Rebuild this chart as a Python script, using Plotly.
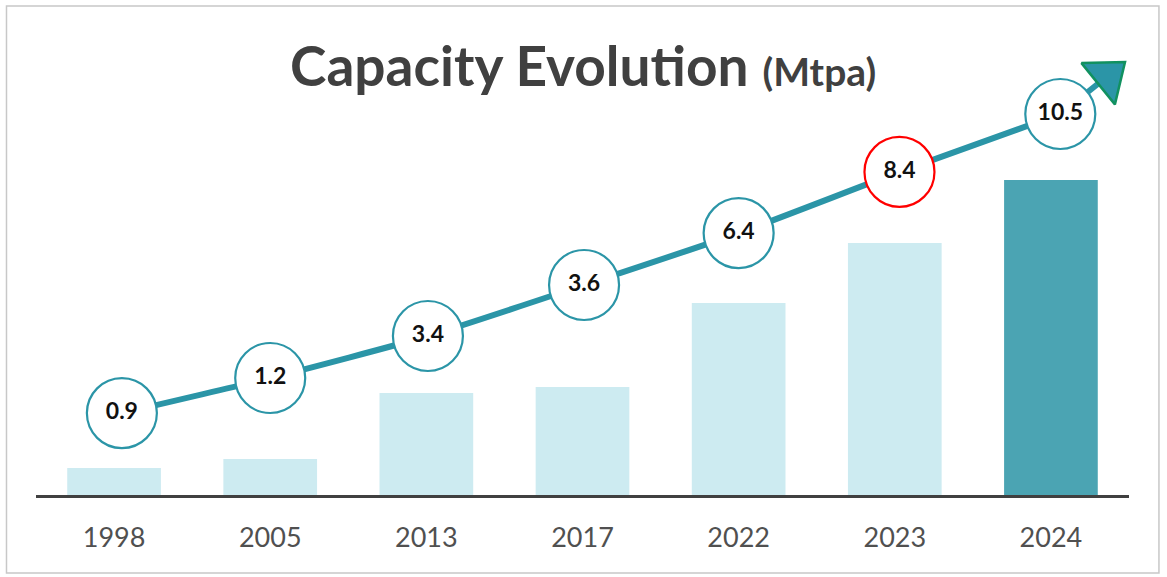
import plotly.graph_objects as go

years = ["1998", "2005", "2013", "2017", "2022", "2023", "2024"]
capacity = [0.9, 1.2, 3.4, 3.6, 6.4, 8.4, 10.5]
labels = ["0.9", "1.2", "3.4", "3.6", "6.4", "8.4", "10.5"]
# decorative trend arrow path (in axis units)
trend_x = [0.05, 1.0, 2.01, 3.01, 4.0, 5.03, 6.06]
trend_level = [2.73, 3.9, 5.3, 7.0, 8.73, 10.77, 12.7]
arrow_tip = (6.36, 13.95)

idx = list(range(len(years)))
light = "#CDEBF1"
dark = "#4BA4B3"
teal = "#2B95A7"

bar_colors = [light] * (len(years) - 1) + [dark]
ring_colors = [teal] * len(years)
ring_colors[5] = "#FF0000"

fig = go.Figure()
fig.add_trace(go.Bar(x=idx, y=capacity, width=0.6, marker=dict(color=bar_colors, line=dict(width=0)),
                     hoverinfo="skip"))
# arrow shaft
fig.add_trace(go.Scatter(x=[trend_x[-1], arrow_tip[0]], y=[trend_level[-1], arrow_tip[1]], mode="lines",
                         line=dict(color=teal, width=6), hoverinfo="skip"))
fig.add_trace(go.Scatter(x=trend_x, y=trend_level, mode="lines",
                         line=dict(color=teal, width=6, shape="spline", smoothing=0.6), hoverinfo="skip"))
# arrow head
fig.add_trace(go.Scatter(x=[arrow_tip[0]], y=[arrow_tip[1]], mode="markers",
                         marker=dict(symbol="triangle-up", size=46, angle=51, color=teal,
                                     line=dict(color="#119160", width=2.5)), hoverinfo="skip"))
# label rings
fig.add_trace(go.Scatter(x=trend_x, y=trend_level, mode="markers+text", text=labels,
                         textfont=dict(family="Lato", size=23, color="#111111", weight="bold"),
                         textposition="middle center",
                         marker=dict(size=70, color="white", line=dict(color=ring_colors, width=2.2)),
                         hoverinfo="skip"))

fig.add_annotation(xref="paper", yref="paper", x=0.5, y=0.905, xanchor="center", yanchor="middle",
                   showarrow=False,
                   text="<b>Capacity Evolution</b> <b><span style='font-size:39px'>(Mtpa)</span></b>",
                   font=dict(family="Lato", size=55, color="#404040"))

fig.add_shape(type="rect", xref="paper", yref="paper", x0=-0.027, x1=1.0274, y0=-0.164, y1=1.0295,
              line=dict(color="#C8C8C8", width=1.5), fillcolor="rgba(0,0,0,0)", layer="below")

fig.update_layout(
    width=1167, height=577,
    margin=dict(l=36, r=38, t=20, b=82),
    paper_bgcolor="white", plot_bgcolor="white",
    showlegend=False, bargap=0.4,
    xaxis=dict(range=[-0.5, 6.5], tickvals=idx, ticktext=years, showgrid=False, zeroline=False,
               showline=True, linecolor="#404040", linewidth=3, ticks="",
               tickfont=dict(family="Lato", size=27, color="#505050"), ticklabelstandoff=17),
    yaxis=dict(range=[0, 475 / 30], visible=False, showgrid=False, zeroline=False),
)
fig.write_html("out.html", config={"displayModeBar": False},
               post_script="document.body.style.margin='0';document.body.style.padding='0';")
